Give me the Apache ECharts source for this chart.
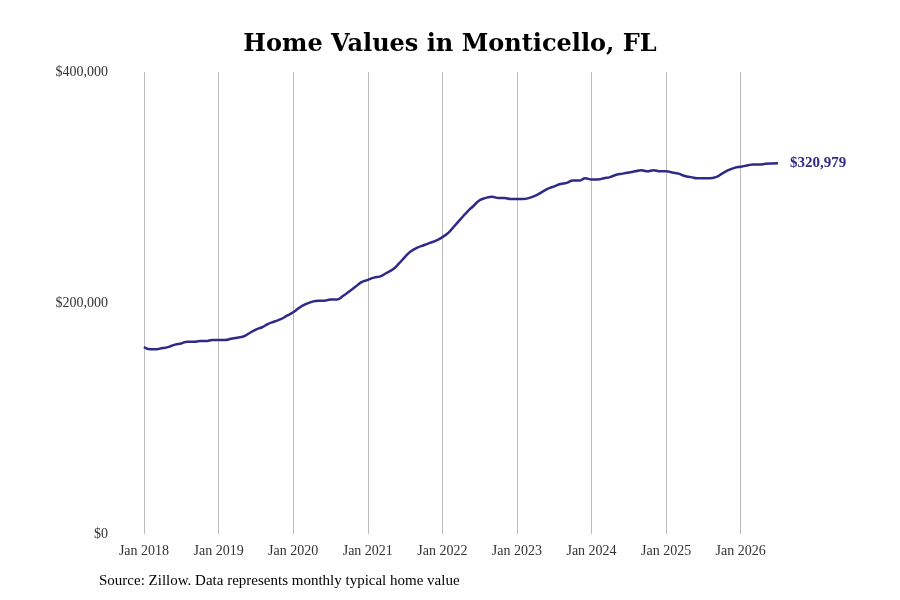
<!DOCTYPE html>
<html>
<head>
<meta charset="utf-8">
<script src="https://cdn.jsdelivr.net/npm/echarts@6/dist/echarts.min.js"></script>
<style>body{margin:0;background:#fff}#c{width:900px;height:600px}</style>
</head>
<body>
<div id="c"></div>
<script>
// monthly typical home value, Jan 2018 - Jul 2026 (thousands)
var startYear = 2018;
var values = [
  162,160,160,161,162,164,165,166.5,166.5,167,167,168,
  168,168,169,170,171,174,177,179,182,184,186,189,
  192,196,199,201,202,202,203,203,206,210,214,218,
  220,222,223,226,229,234,240,245,248,250,252,254,
  257,261,267,273,279,284,289,291,292,291,291,290,
  290,290,291,293,296,299,301,303,304,306,306,308,
  307,307,308,309,311,312,313,314,315,314,315,314,
  314,313,312,310,309,308,308,308,309,312,315,317,
  318,319,320,320,320.5,320.8,320.979
];
var months = [];
for (var i = 0; i < values.length; i++) {
  months.push('Jan ' + (startYear + Math.floor(i / 12)) + (i % 12 === 0 ? '' : '-' + i));
}
var data = values.map(function (v) { return v * 1000; });

var chart = echarts.init(document.getElementById('c'));
chart.setOption({
  backgroundColor: '#fff',
  title: {
    text: 'Home Values in Monticello, FL',
    left: 'center', top: 28,
    textStyle: { fontFamily: 'DejaVu Serif', fontWeight: 'bold', fontSize: 24, color: '#000' }
  },
  grid: { left: 144, right: 122, top: 72, bottom: 66 },
  xAxis: {
    type: 'category', data: months, boundaryGap: false,
    axisLine: { show: false },
    axisTick: { show: false },
    axisLabel: {
      interval: function (i) { return i % 12 === 0; },
      formatter: function (v) { return v.split('-')[0]; },
      fontFamily: 'Liberation Serif', fontSize: 14, color: '#333', margin: 10
    },
    splitLine: { show: true, interval: function (i) { return i % 12 === 0; }, lineStyle: { color: '#bbb', width: 1 } }
  },
  yAxis: {
    type: 'value', min: 0, max: 400000, interval: 200000,
    axisLine: { show: false }, axisTick: { show: false },
    splitLine: { show: false },
    axisLabel: {
      formatter: function (v) { return '$' + v.toLocaleString('en-US'); },
      fontFamily: 'Liberation Serif', fontSize: 14, color: '#333', margin: 36
    }
  },
  series: [{
    type: 'line', data: data, showSymbol: false, smooth: true,
    lineStyle: { color: '#2e2a88', width: 2.5 },
    itemStyle: { color: '#2e2a88' },
    endLabel: {
      show: true, distance: 12,
      formatter: function () { return '$320,979'; },
      fontFamily: 'Liberation Serif', fontWeight: 'bold', fontSize: 15, color: '#2e2a88'
    }
  }],
  graphic: [{
    type: 'text', left: 99, top: 574,
    style: { text: 'Source: Zillow. Data represents monthly typical home value', font: '15px "Liberation Serif"', fill: '#000' }
  }]
});
</script>
</body>
</html>
